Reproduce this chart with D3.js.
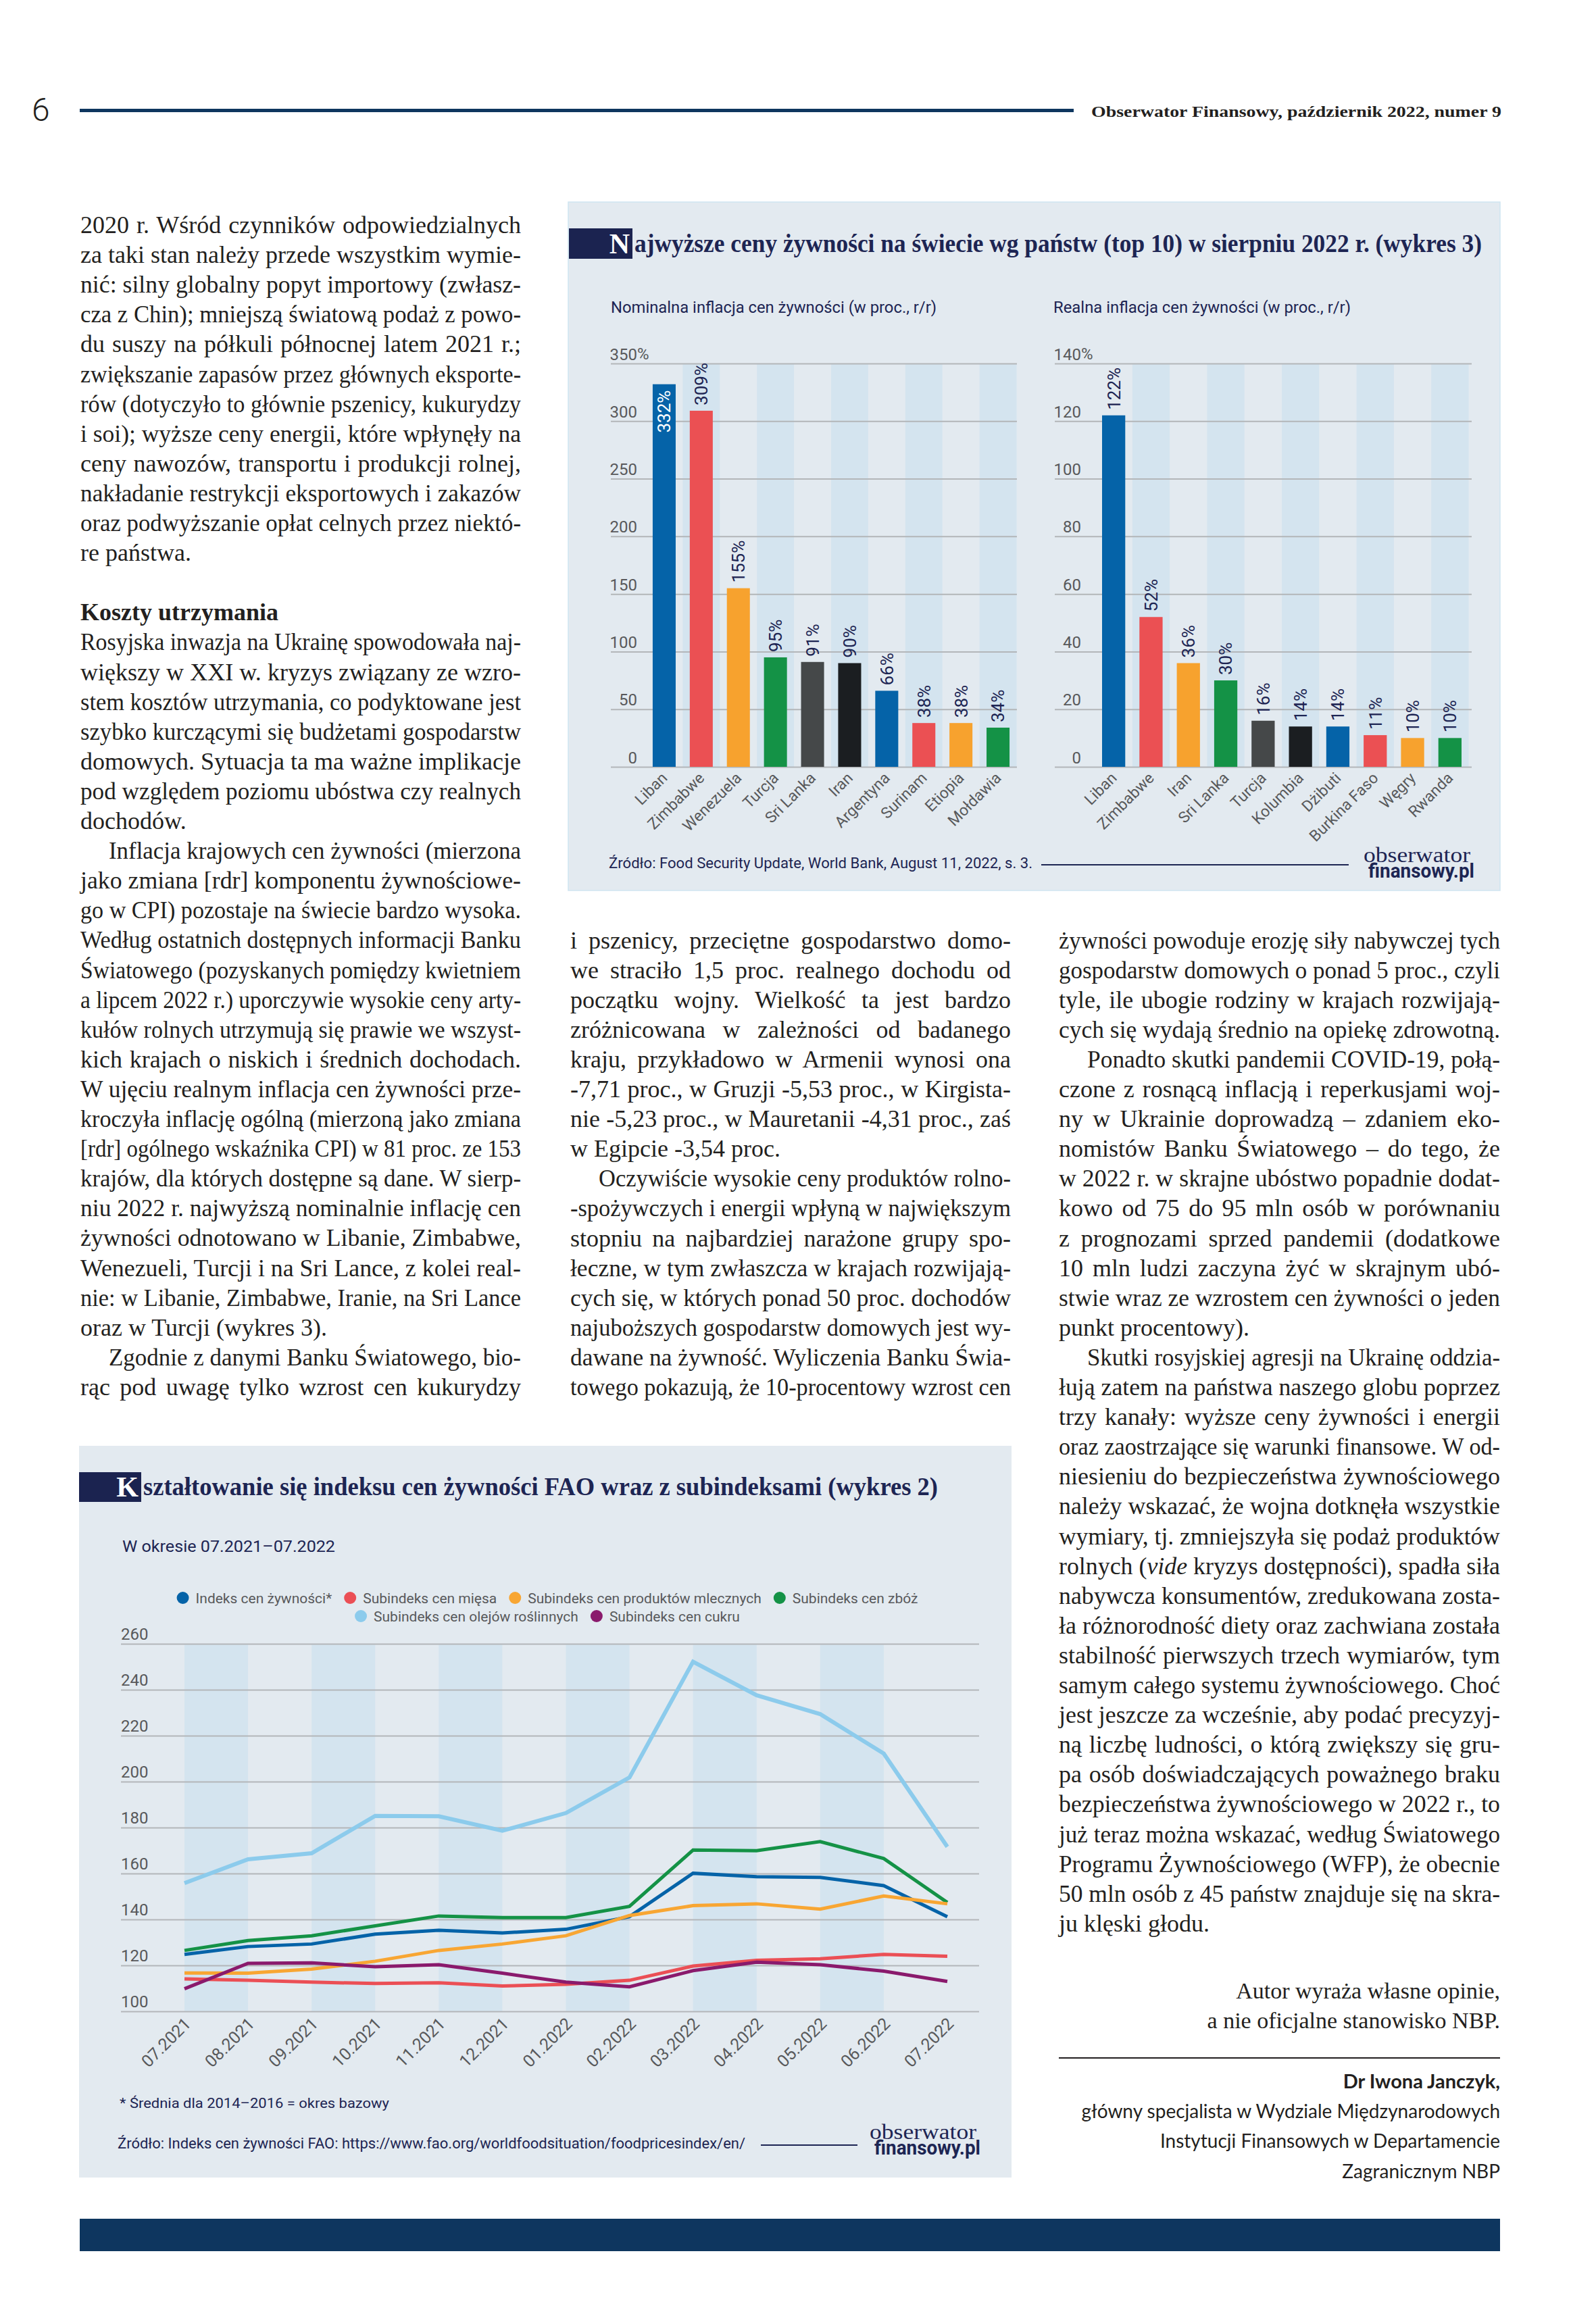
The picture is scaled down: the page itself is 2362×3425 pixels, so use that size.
<!DOCTYPE html>
<html><head><meta charset="utf-8">
<script src="https://cdn.jsdelivr.net/npm/d3@7"></script>
<style>body{margin:0;background:#fff}svg{display:block}</style>
</head><body>
<svg id="page" width="2362" height="3425"></svg>
<script>
// ---------- DATA ----------
const nomCountries = ["Liban","Zimbabwe","Wenezuela","Turcja","Sri Lanka","Iran","Argentyna","Surinam","Etiopia","Mołdawia"];
const nomValues = [332,309,155,95,91,90,66,38,38,34];
const realCountries = ["Liban","Zimbabwe","Iran","Sri Lanka","Turcja","Kolumbia","Dżibuti","Burkina Faso","Węgry","Rwanda"];
const realValues = [122,52,36,30,16,14,14,11,10,10];
const barColors = ["#0563a8","#eb5053","#f7a22e","#149246","#454849","#1b1e21","#0563a8","#eb5053","#f7a22e","#149246"];
const nomTicks = [0,50,100,150,200,250,300,350];
const realTicks = [0,20,40,60,80,100,120,140];

const months = ["07.2021","08.2021","09.2021","10.2021","11.2021","12.2021","01.2022","02.2022","03.2022","04.2022","05.2022","06.2022","07.2022"];
const foodIndex = [124.8,128.2,129.3,133.6,135.3,134.1,135.7,141.2,160.1,158.6,158.3,154.7,141.2];
const meatIndex = [114.1,113.5,112.7,112.1,112.4,111.0,111.8,113.5,119.7,122.2,122.9,124.8,124.0];
const dairyIndex = [116.7,116.6,118.4,121.8,126.5,129.3,132.9,141.7,146.0,146.8,144.5,150.2,146.8];
const cerealsIndex = [126.5,130.8,132.9,137.2,141.5,140.8,140.8,145.7,170.2,169.9,173.9,166.5,147.4];
const oilsIndex = [155.8,166.2,168.8,185.1,184.9,178.6,186.3,201.8,252.2,237.6,229.4,212.2,171.6];
const sugarIndex = [109.8,120.9,121.1,119.4,120.3,116.6,112.7,110.7,117.7,121.4,120.3,117.5,113.0];
const seriesNames = ["Indeks cen żywności*","Subindeks cen mięsa","Subindeks cen produktów mlecznych","Subindeks cen zbóż","Subindeks cen olejów roślinnych","Subindeks cen cukru"];
const seriesColors = ["#0563a8","#eb4f55","#f8a633","#149246","#8ccbec","#8a1a6c"];
const idxTicks = [100,120,140,160,180,200,220,240,260];

// ---------- TEXT ----------
const colLeft = [
"2020 r. Wśród czynników odpowiedzialnych",
"za taki stan należy przede wszystkim wymie-",
"nić: silny globalny popyt importowy (zwłasz-",
"cza z Chin); mniejszą światową podaż z powo-",
"du suszy na półkuli północnej latem 2021 r.;",
"zwiększanie zapasów przez głównych eksporte-",
"rów (dotyczyło to głównie pszenicy, kukurydzy",
"i soi); wyższe ceny energii, które wpłynęły na",
"ceny nawozów, transportu i produkcji rolnej,",
"nakładanie restrykcji eksportowych i zakazów",
"oraz podwyższanie opłat celnych przez niektó-",
"re państwa.¶",
"",
"#Koszty utrzymania",
"Rosyjska inwazja na Ukrainę spowodowała naj-",
"większy w XXI w. kryzys związany ze wzro-",
"stem kosztów utrzymania, co podyktowane jest",
"szybko kurczącymi się budżetami gospodarstw",
"domowych. Sytuacja ta ma ważne implikacje",
"pod względem poziomu ubóstwa czy realnych",
"dochodów.¶",
"\tInflacja krajowych cen żywności (mierzona",
"jako zmiana [rdr] komponentu żywnościowe-",
"go w CPI) pozostaje na świecie bardzo wysoka.",
"Według ostatnich dostępnych informacji Banku",
"Światowego (pozyskanych pomiędzy kwietniem",
"a lipcem 2022 r.) uporczywie wysokie ceny arty-",
"kułów rolnych utrzymują się prawie we wszyst-",
"kich krajach o niskich i średnich dochodach.",
"W ujęciu realnym inflacja cen żywności prze-",
"kroczyła inflację ogólną (mierzoną jako zmiana",
"[rdr] ogólnego wskaźnika CPI) w 81 proc. ze 153",
"krajów, dla których dostępne są dane. W sierp-",
"niu 2022 r. najwyższą nominalnie inflację cen",
"żywności odnotowano w Libanie, Zimbabwe,",
"Wenezueli, Turcji i na Sri Lance, z kolei real-",
"nie: w Libanie, Zimbabwe, Iranie, na Sri Lance",
"oraz w Turcji (wykres 3).¶",
"\tZgodnie z danymi Banku Światowego, bio-",
"rąc pod uwagę tylko wzrost cen kukurydzy"
];
const colMid = [
"i pszenicy, przeciętne gospodarstwo domo-",
"we straciło 1,5 proc. realnego dochodu od",
"początku wojny. Wielkość ta jest bardzo",
"zróżnicowana w zależności od badanego",
"kraju, przykładowo w Armenii wynosi ona",
"-7,71 proc., w Gruzji -5,53 proc., w Kirgista-",
"nie -5,23 proc., w Mauretanii -4,31 proc., zaś",
"w Egipcie -3,54 proc.¶",
"\tOczywiście wysokie ceny produktów rolno-",
"-spożywczych i energii wpłyną w największym",
"stopniu na najbardziej narażone grupy spo-",
"łeczne, w tym zwłaszcza w krajach rozwijają-",
"cych się, w których ponad 50 proc. dochodów",
"najuboższych gospodarstw domowych jest wy-",
"dawane na żywność. Wyliczenia Banku Świa-",
"towego pokazują, że 10-procentowy wzrost cen"
];
const colRight = [
"żywności powoduje erozję siły nabywczej tych",
"gospodarstw domowych o ponad 5 proc., czyli",
"tyle, ile ubogie rodziny w krajach rozwijają-",
"cych się wydają średnio na opiekę zdrowotną.",
"\tPonadto skutki pandemii COVID-19, połą-",
"czone z rosnącą inflacją i reperkusjami woj-",
"ny w Ukrainie doprowadzą – zdaniem eko-",
"nomistów Banku Światowego – do tego, że",
"w 2022 r. w skrajne ubóstwo popadnie dodat-",
"kowo od 75 do 95 mln osób w porównaniu",
"z prognozami sprzed pandemii (dodatkowe",
"10 mln ludzi zaczyna żyć w skrajnym ubó-",
"stwie wraz ze wzrostem cen żywności o jeden",
"punkt procentowy).¶",
"\tSkutki rosyjskiej agresji na Ukrainę oddzia-",
"łują zatem na państwa naszego globu poprzez",
"trzy kanały: wyższe ceny żywności i energii",
"oraz zaostrzające się warunki finansowe. W od-",
"niesieniu do bezpieczeństwa żywnościowego",
"należy wskazać, że wojna dotknęła wszystkie",
"wymiary, tj. zmniejszyła się podaż produktów",
"rolnych (_vide_ kryzys dostępności), spadła siła",
"nabywcza konsumentów, zredukowana zosta-",
"ła różnorodność diety oraz zachwiana została",
"stabilność pierwszych trzech wymiarów, tym",
"samym całego systemu żywnościowego. Choć",
"jest jeszcze za wcześnie, aby podać precyzyj-",
"ną liczbę ludności, o którą zwiększy się gru-",
"pa osób doświadczających poważnego braku",
"bezpieczeństwa żywnościowego w 2022 r., to",
"już teraz można wskazać, według Światowego",
"Programu Żywnościowego (WFP), że obecnie",
"50 mln osób z 45 państw znajduje się na skra-",
"ju klęski głodu.¶"
];

// ---------- STYLE ----------
const SERIF = "'Liberation Serif','DejaVu Serif',serif";
const SANS = "Roboto,'Noto Sans',sans-serif";
const LATO = "Lato,Roboto,sans-serif";
const NAVY = "#1d2553";
const TBOX = "#1b2350";
const TXT = "#231f20";
const GREY = "#58595b";
const BG = "#e3eaf0";
const STRIPE = "#d4e4ef";
const GRID = "#b3b6b9";
const BAR = "#0e365f";
const LH = 44.1;

const svg = d3.select("#page");
svg.append("rect").attr("width",2362).attr("height",3425).attr("fill","#fff");

function fit(sel, w){ sel.attr("textLength", w).attr("lengthAdjust","spacingAndGlyphs"); return sel; }

// ---------- HEADER ----------
svg.append("text").attr("x",47).attr("y",179).attr("font-family",SANS).attr("font-weight",300)
  .attr("font-size",48).attr("fill",TXT).text("6");
svg.append("rect").attr("x",118).attr("y",161).attr("width",1471).attr("height",5).attr("fill",BAR);
fit(svg.append("text").attr("x",1615).attr("y",173).attr("font-family",SERIF).attr("font-weight","bold")
  .attr("font-size",24).attr("fill",TXT).text("Obserwator Finansowy, październik 2022, numer 9"), 607);

// ---------- BODY COLUMNS ----------
function column(lines, x, y0, width){
  lines.forEach((raw,i)=>{
    if(!raw) return;
    let s = raw, indent = 0, justify = true, bold = false;
    if(s.startsWith("\t")){ indent = 42; s = s.slice(1); }
    if(s.endsWith("¶")){ justify = false; s = s.slice(0,-1); }
    if(s.startsWith("#")){ bold = true; justify = false; s = s.slice(1); }
    const t = svg.append("text").attr("x", x+indent).attr("y", y0 + i*LH)
      .attr("font-family",SERIF).attr("font-size",36).attr("fill",TXT)
      .attr("font-weight", bold ? "bold" : null);
    s.split("_").forEach((part,k)=>{
      t.append("tspan").attr("font-style", k%2 ? "italic" : null).text(part);
    });
    const w = t.node().getComputedTextLength();
    const target = width - indent;
    if(w > target) fit(t, target);
    else if(justify){
      const sp = (s.match(/ /g)||[]).length;
      if(sp) t.style("word-spacing", ((target-w)/sp)+"px");
    }
  });
}
column(colLeft, 119, 345, 652);
column(colMid, 844, 1403.5, 652);
column(colRight, 1567, 1403.5, 653);

// signature
[["Autor wyraża własne opinie,",2958],["a nie oficjalne stanowisko NBP.",3002]].forEach(([s,y])=>{
  svg.append("text").attr("x",2220).attr("y",y).attr("text-anchor","end").attr("font-family",SERIF)
    .attr("font-size",34).attr("fill",TXT).text(s);
});
svg.append("line").attr("x1",1567).attr("x2",2220).attr("y1",3046).attr("y2",3046).attr("stroke",TXT).attr("stroke-width",2);
svg.append("text").attr("x",2220).attr("y",3091).attr("text-anchor","end").attr("font-family",LATO)
  .attr("font-weight","bold").attr("font-size",29).attr("fill",TXT).text("Dr Iwona Janczyk,");
[["główny specjalista w Wydziale Międzynarodowych",3135,627],["Instytucji Finansowych w Departamencie",3179,516],["Zagranicznym NBP",3224,236]].forEach(([s,y,w])=>{
  const t = svg.append("text").attr("x",2220).attr("y",y).attr("text-anchor","end").attr("font-family",LATO)
    .attr("font-size",28).attr("fill",TXT).text(s);
  if(t.node().getComputedTextLength()>w) fit(t,w);
});

// footer bar
svg.append("rect").attr("x",118).attr("y",3284).attr("width",2102).attr("height",48).attr("fill",BAR);

// ---------- LOGO ----------
function logo(x, y){
  fit(svg.append("text").attr("x",x).attr("y",y).attr("font-family",SERIF).attr("font-size",32)
    .attr("fill",NAVY).text("obserwator"),158);
  fit(svg.append("text").attr("x",x+7).attr("y",y+23).attr("font-family",SANS).attr("font-weight","bold")
    .attr("font-size",30).attr("fill",NAVY).text("finansowy.pl"),157);
}

// ---------- CHART 3 (bars) ----------
svg.append("rect").attr("x",841).attr("y",299).attr("width",1379).attr("height",1019).attr("fill",BG)
  .attr("stroke","#cfe5f1").attr("stroke-width",1.5);
svg.append("rect").attr("x",842).attr("y",338).attr("width",94).attr("height",45).attr("fill",TBOX);
svg.append("text").attr("x",932).attr("y",375).attr("text-anchor","end").attr("font-family",SERIF)
  .attr("font-weight","bold").attr("font-size",42).attr("fill","#fff").text("N");
fit(svg.append("text").attr("x",939).attr("y",373).attr("font-family",SERIF).attr("font-weight","bold")
  .attr("font-size",37).attr("fill",NAVY)
  .text("ajwyższe ceny żywności na świecie wg państw (top 10) w sierpniu 2022 r. (wykres 3)"),1254);
fit(svg.append("text").attr("x",904).attr("y",463).attr("font-family",SANS).attr("font-size",23)
  .attr("fill",NAVY).text("Nominalna inflacja cen żywności (w proc., r/r)"),482);
fit(svg.append("text").attr("x",1559).attr("y",463).attr("font-family",SANS).attr("font-size",23)
  .attr("fill",NAVY).text("Realna inflacja cen żywności (w proc., r/r)"),440);

function barPanel(cats, vals, ticks, gx0, gx1, b0, b1, labRight, firstInside){
  const g = svg.append("g");
  const ymax = ticks[ticks.length-1];
  const y = d3.scaleLinear().domain([0,ymax]).range([1135,538]);
  const x = d3.scaleBand().domain(cats).range([b0,b1]);
  const bw = x.bandwidth();
  g.selectAll(null).data(cats.filter((c,i)=>i%2===1)).join("rect")
    .attr("x",c=>x(c)).attr("y",538).attr("width",bw).attr("height",1135-538).attr("fill",STRIPE);
  const ax = g.append("g").attr("transform",`translate(${gx0},0)`)
    .call(d3.axisLeft(y).tickValues(ticks).tickSize(-(gx1-gx0)).tickFormat(d=>d));
  ax.select(".domain").remove();
  ax.selectAll("line").attr("stroke",GRID).attr("stroke-width",2);
  ax.selectAll("text").attr("x",labRight-gx0).attr("dy",-6).attr("font-family",SANS)
    .attr("font-size",24).attr("fill",GREY).attr("text-anchor","end");
  g.append("text").attr("x",labRight).attr("y",y(ymax)-6).attr("font-family",SANS)
    .attr("font-size",24).attr("fill",GREY).text("%");
  g.selectAll(null).data(vals).join("rect")
    .attr("x",(v,i)=>x(cats[i])+bw*0.19).attr("width",bw*0.62)
    .attr("y",v=>y(v)).attr("height",v=>1135-y(v)).attr("fill",(v,i)=>barColors[i]);
  g.selectAll(null).data(vals).join("text")
    .attr("transform",(v,i)=>`translate(${x(cats[i])+bw/2},${(i===0&&firstInside)?y(v)+9:y(v)-8}) rotate(-90)`)
    .attr("text-anchor",(v,i)=>(i===0&&firstInside)?"end":"start").attr("dy","0.36em")
    .attr("font-family",SANS).attr("font-size",26)
    .attr("fill",(v,i)=>(i===0&&firstInside)?"#fff":NAVY).text(v=>v+"%");
  g.selectAll(null).data(cats).join("text")
    .attr("transform",c=>`translate(${x(c)+bw/2+6},${1153}) rotate(-45)`)
    .attr("text-anchor","end").attr("font-family",SANS).attr("font-size",23).attr("fill",GREY).text(c=>c);
}
barPanel(nomCountries, nomValues, nomTicks, 904, 1505, 955.5, 1504.5, 943, true);
barPanel(realCountries, realValues, realTicks, 1561, 2178, 1620.5, 2173.5, 1600, false);

fit(svg.append("text").attr("x",901).attr("y",1285).attr("font-family",SANS).attr("font-size",22)
  .attr("fill",NAVY).text("Źródło: Food Security Update, World Bank, August 11, 2022, s. 3."),627);
svg.append("line").attr("x1",1541).attr("x2",1996).attr("y1",1280).attr("y2",1280).attr("stroke",NAVY).attr("stroke-width",2);
logo(2018, 1276);

// ---------- CHART 2 (lines) ----------
svg.append("rect").attr("x",117).attr("y",2140).attr("width",1380).attr("height",1083).attr("fill",BG);
svg.append("rect").attr("x",117).attr("y",2179).attr("width",92).attr("height",44).attr("fill",TBOX);
svg.append("text").attr("x",205).attr("y",2215).attr("text-anchor","end").attr("font-family",SERIF)
  .attr("font-weight","bold").attr("font-size",42).attr("fill","#fff").text("K");
fit(svg.append("text").attr("x",212).attr("y",2213).attr("font-family",SERIF).attr("font-weight","bold")
  .attr("font-size",37).attr("fill",NAVY)
  .text("ształtowanie się indeksu cen żywności FAO wraz z subindeksami (wykres 2)"),1176);
fit(svg.append("text").attr("x",181).attr("y",2297).attr("font-family",SANS).attr("font-size",23)
  .attr("fill",NAVY).text("W okresie 07.2021–07.2022"),315);

// legend
(function(){
  const rows = [[0,1,2,3],[4,5]];
  const rowY = [2365,2392];
  rows.forEach((r,ri)=>{
    const g = svg.append("g");
    let cx = 0;
    r.forEach(i=>{
      g.append("circle").attr("cx",cx+9).attr("cy",rowY[ri]).attr("r",9).attr("fill",seriesColors[i]);
      const t = g.append("text").attr("x",cx+28).attr("y",rowY[ri]+8).attr("font-family",SANS)
        .attr("font-size",21).attr("fill",GREY).text(seriesNames[i]);
      cx += 28 + t.node().getComputedTextLength() + 18;
    });
    const total = cx - 18;
    g.attr("transform",`translate(${810 - total/2},0)`);
  });
})();

(function(){
  const g = svg.append("g");
  const x = d3.scalePoint().domain(months).range([273,1402]);
  const y = d3.scaleLinear().domain([100,260]).range([2977,2433]);
  g.selectAll(null).data(months.filter((m,i)=>i%2===0 && i<months.length-1)).join("rect")
    .attr("x",m=>x(m)).attr("y",2433).attr("width",x.step()).attr("height",2977-2433).attr("fill",STRIPE);
  const ax = g.append("g").attr("transform","translate(179,0)")
    .call(d3.axisLeft(y).tickValues(idxTicks).tickSize(-(1449-179)).tickFormat(d=>d));
  ax.select(".domain").remove();
  ax.selectAll("line").attr("stroke",GRID).attr("stroke-width",2);
  ax.selectAll("text").attr("x",0).attr("dy",-7).attr("text-anchor","start").attr("font-family",SANS)
    .attr("font-size",24).attr("fill",GREY);
  const line = d3.line().x((d,i)=>x(months[i])).y(d=>y(d));
  const order = [[oilsIndex,4,6],[cerealsIndex,3,5],[foodIndex,0,5],[dairyIndex,2,5],[meatIndex,1,5],[sugarIndex,5,5]];
  order.forEach(([data,ci,w])=>{
    g.append("path").attr("d",line(data)).attr("fill","none").attr("stroke",seriesColors[ci])
      .attr("stroke-width",w).attr("stroke-linejoin","miter");
  });
  g.selectAll(null).data(months).join("text")
    .attr("transform",m=>`translate(${x(m)+11},${2997}) rotate(-45)`)
    .attr("text-anchor","end").attr("font-family",SANS).attr("font-size",25).attr("fill",GREY).text(m=>m);
})();

fit(svg.append("text").attr("x",177).attr("y",3120).attr("font-family",SANS).attr("font-size",21)
  .attr("fill",NAVY).text("* Średnia dla 2014–2016 = okres bazowy"),399);
fit(svg.append("text").attr("x",174).attr("y",3180).attr("font-family",SANS).attr("font-size",22)
  .attr("fill",NAVY).text("Źródło: Indeks cen żywności FAO: https://www.fao.org/worldfoodsituation/foodpricesindex/en/"),929);
svg.append("line").attr("x1",1126).attr("x2",1269).attr("y1",3175).attr("y2",3175).attr("stroke",NAVY).attr("stroke-width",2);
logo(1287, 3166);
</script>
</body></html>
